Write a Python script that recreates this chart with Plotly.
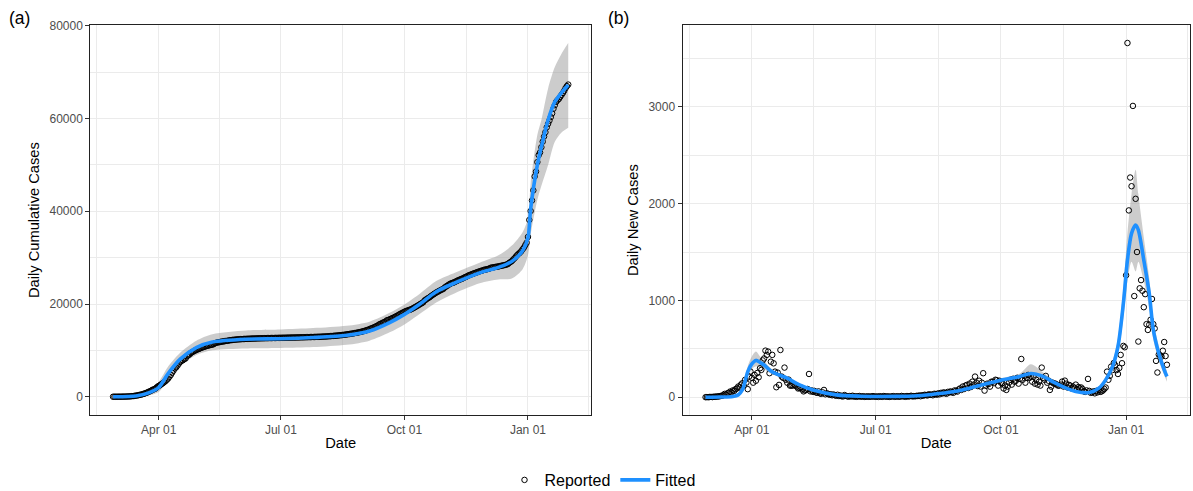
import numpy as np
import pandas as pd
import plotly.graph_objects as go

# ---------------- data ----------------
start_date = "2020-02-27"

new_feb = [0, 1, 0]
new_mar = [2, 3, 1, 5, 4, 8, 6, 10, 12, 15, 20, 34, 25, 40, 45, 58, 50, 70, 65, 83,
           90, 110, 100, 130, 144, 120, 179, 150, 83, 213, 265]
new_apr = [200, 150, 230, 170, 250, 206, 299, 282, 380, 400, 481, 437, 471, 248, 367,
           437, 350, 264, 103, 254, 127, 488, 213, 200, 306, 180, 150, 182, 120, 120]
new_may = [120, 130, 120, 110, 90, 95, 100, 80, 60, 70, 75, 85, 240, 60, 70, 55, 65,
           50, 45, 60, 40, 35, 50, 75, 30, 40, 35, 25, 30, 20, 28]
new_jun = [20, 15, 25, 12, 18, 10, 8, 22, 15, 10, 5, 12, 8, 15, 6, 10, 4, 8, 12, 5,
           7, 10, 3, 6, 9, 4, 8, 5, 11, 6]
new_jul = [5, 8, 3, 10, 6, 4, 12, 7, 5, 9, 3, 6, 8, 11, 4, 7, 10, 5, 6, 13, 8, 9, 4,
           12, 7, 10, 15, 8, 11, 9, 14]
new_aug = [12, 18, 10, 20, 15, 25, 22, 18, 30, 24, 28, 20, 35, 32, 26, 40, 30, 45, 38,
           50, 42, 35, 55, 48, 60, 52, 45, 70, 65, 58, 80]
new_sep = [90, 75, 110, 85, 120, 127, 95, 140, 105, 160, 130, 213, 150, 115, 170, 110,
           150, 248, 68, 120, 140, 135, 109, 160, 160, 145, 180, 175, 120, 170]
new_oct = [150, 145, 90, 120, 75, 110, 150, 180, 130, 190, 160, 170, 200, 140, 190, 395,
           180, 220, 150, 200, 230, 200, 215, 160, 210, 140, 180, 130, 160, 120, 306]
new_nov = [200, 180, 220, 150, 170, 75, 109, 150, 140, 140, 130, 120, 120, 130, 161, 110,
           171, 140, 100, 127, 120, 90, 110, 95, 130, 80, 105, 90, 100, 85]
new_dec = [60, 55, 70, 189, 65, 45, 50, 60, 40, 65, 50, 75, 55, 60, 70, 85, 100, 264,
           180, 220, 316, 280, 354, 330, 280, 240, 302, 437, 351, 530, 516]
new_jan = [1260, 3660, 1930, 2270, 2180, 3010, 1045, 2050, 1500, 575, 1125, 1210, 1100,
           930, 1065, 755, 695, 750, 800, 1015, 755, 710, 375, 255, 440, 430, 420, 480,
           570, 425, 335]

# fitted daily new cases (knots) with confidence band
fit_new_dates = ["2020-02-27", "2020-03-10", "2020-03-18", "2020-03-22", "2020-03-25",
                 "2020-03-27", "2020-03-29", "2020-04-01", "2020-04-04", "2020-04-07",
                 "2020-04-10", "2020-04-15", "2020-04-20", "2020-04-27", "2020-05-06",
                 "2020-05-16", "2020-06-02", "2020-06-20", "2020-07-15", "2020-08-01",
                 "2020-08-15", "2020-09-01", "2020-09-15", "2020-10-01", "2020-10-15",
                 "2020-10-23", "2020-11-01", "2020-11-08", "2020-11-18", "2020-11-25",
                 "2020-12-05", "2020-12-12", "2020-12-17", "2020-12-22", "2020-12-26",
                 "2020-12-30", "2021-01-02", "2021-01-05", "2021-01-08", "2021-01-10",
                 "2021-01-14", "2021-01-18", "2021-01-21", "2021-01-25", "2021-01-29",
                 "2021-01-31"]
fit_new = [0, 2, 8, 24, 75, 161, 264, 344, 380, 360, 333, 270, 235, 196, 127, 75, 24, 10,
           8, 15, 35, 70, 120, 175, 215, 245, 215, 161, 93, 58, 48, 93, 179, 316, 522, 970,
           1417, 1693, 1779, 1727, 1417, 1073, 695, 454, 282, 213]
fit_new_lo = [0, 0, 3, 12, 50, 120, 210, 290, 320, 310, 290, 245, 215, 180, 115, 67, 20,
              7, 5, 11, 29, 60, 105, 155, 190, 210, 185, 140, 80, 48, 38, 75, 150, 270,
              440, 820, 1200, 1400, 1300, 1400, 1200, 920, 600, 380, 230, 160]
fit_new_hi = [0, 5, 15, 40, 100, 200, 320, 420, 471, 420, 375, 300, 255, 212, 140, 83,
              29, 13, 11, 19, 41, 80, 135, 195, 245, 340, 255, 185, 107, 68, 58, 110, 210,
              370, 610, 1130, 1700, 2100, 2350, 2100, 1650, 1230, 800, 530, 340, 270]

# fitted cumulative cases (knots) with confidence band
fit_cum_dates = ["2020-02-27", "2020-03-15", "2020-03-25", "2020-04-01", "2020-04-08",
                 "2020-04-17", "2020-04-29", "2020-05-11", "2020-06-05", "2020-07-01",
                 "2020-07-25", "2020-08-19", "2020-09-05", "2020-09-20", "2020-10-01",
                 "2020-10-12", "2020-10-25", "2020-11-08", "2020-11-26", "2020-12-10",
                 "2020-12-20", "2020-12-28", "2021-01-01", "2021-01-03", "2021-01-08",
                 "2021-01-11", "2021-01-16", "2021-01-21", "2021-01-26", "2021-01-31"]
fit_cum = [0, 150, 900, 2000, 5000, 8100, 10600, 11800, 12400, 12500, 12760, 13250,
           14180, 16000, 17770, 19900, 22700, 24600, 26720, 27900, 29200, 31500, 34300,
           40500, 50000, 53900, 59700, 63600, 65600, 67250]
fit_cum_lo = [0, -100, 300, 1000, 3600, 6600, 9000, 10000, 10400, 10500, 10700, 11200,
              12100, 13900, 15600, 17800, 20400, 22400, 24500, 25300, 25500, 27500, 30500,
              35000, 42500, 45500, 50000, 55000, 57000, 58000]
fit_cum_hi = [0, 600, 1600, 3200, 6500, 9500, 12100, 13500, 14300, 14500, 14800, 15300,
              16200, 18100, 19900, 22100, 25000, 26800, 28900, 30500, 32600, 35500, 38500,
              46000, 56500, 59700, 66500, 71100, 74000, 76300]

x_tick_vals = ["2020-04-01", "2020-07-01", "2020-10-01", "2021-01-01"]
x_tick_text = ["Apr 01", "Jul 01", "Oct 01", "Jan 01"]
x_minor_vals = ["2020-02-15", "2020-05-16 12:00", "2020-08-16", "2020-11-16", "2021-02-15"]
y1_tick_vals = [0, 20000, 40000, 60000, 80000]
y1_minor_vals = [10000, 30000, 50000, 70000]
y2_tick_vals = [0, 1000, 2000, 3000]
y2_minor_vals = [500, 1500, 2500, 3500]

# ---------------- derived series ----------------
daily_new = (new_feb + new_mar + new_apr + new_may + new_jun + new_jul + new_aug +
             new_sep + new_oct + new_nov + new_dec + new_jan)
dates = pd.date_range(start_date, periods=len(daily_new), freq="D")
daily_cum = np.cumsum(daily_new)

span = dates[-1] - dates[0]
x_range = [dates[0] - span * 0.05, dates[-1] + span * 0.05]


def y_range(lo, hi):
    r = hi - lo
    return [lo - 0.05 * r, hi + 0.05 * r]


y1_range = y_range(min(0, min(fit_cum_lo)), max(max(fit_cum_hi), daily_cum.max()))
y2_range = y_range(0, max(max(fit_new_hi), max(daily_new)))

# ---------------- figure ----------------
FONT = "Liberation Sans, Arial, Helvetica, sans-serif"
BAND = "rgba(153,153,153,0.5)"
BLUE = "#1E90FF"

fig = go.Figure()


def add_panel(xa, ya, pts_y, f_dates, f_val, f_lo, f_hi, legend):
    fig.add_trace(go.Scatter(x=pd.to_datetime(f_dates), y=f_lo, mode="lines",
                             line=dict(width=0, shape="spline", smoothing=0.8),
                             xaxis=xa, yaxis=ya, showlegend=False, hoverinfo="skip"))
    fig.add_trace(go.Scatter(x=pd.to_datetime(f_dates), y=f_hi, mode="lines",
                             line=dict(width=0, shape="spline", smoothing=0.8),
                             fill="tonexty", fillcolor=BAND,
                             xaxis=xa, yaxis=ya, showlegend=False, hoverinfo="skip"))
    fig.add_trace(go.Scatter(x=dates, y=pts_y, mode="markers", name="Reported",
                             marker=dict(symbol="circle-open", size=5.5, color="black",
                                         line=dict(width=1, color="black")),
                             xaxis=xa, yaxis=ya, showlegend=legend, legendgroup="rep"))
    fig.add_trace(go.Scatter(x=pd.to_datetime(f_dates), y=f_val, mode="lines", name="Fitted",
                             line=dict(color=BLUE, width=3.6, shape="spline", smoothing=0.8),
                             xaxis=xa, yaxis=ya, showlegend=legend, legendgroup="fit"))


add_panel("x", "y", daily_cum, fit_cum_dates, fit_cum, fit_cum_lo, fit_cum_hi, False)
add_panel("x2", "y2", daily_new, fit_new_dates, fit_new, fit_new_lo, fit_new_hi, True)

W, H = 1193, 491
top_px, bot_px = 25.3, 414.9
ydom = [1 - bot_px / H, 1 - top_px / H]

common_axis = dict(showgrid=True, gridcolor="#EBEBEB", gridwidth=1.1, zeroline=False,
                   showline=True, mirror=True, linecolor="#222222", linewidth=1,
                   ticks="outside", ticklen=4, tickcolor="#333333", tickwidth=1,
                   tickfont=dict(family=FONT, size=12, color="#4D4D4D"),
                   tickmode="array", automargin=False)

xaxis_common = dict(common_axis, type="date", range=x_range, tickvals=x_tick_vals,
                    ticktext=x_tick_text,
                    minor=dict(tickmode="array", tickvals=x_minor_vals, showgrid=True,
                               gridcolor="#EBEBEB", gridwidth=0.55, ticks=""),
                    title=dict(text="Date", font=dict(family=FONT, size=14.7, color="black"),
                               standoff=1))

fig.update_layout(
    width=W, height=H,
    margin=dict(l=0, r=0, t=0, b=0, pad=0, autoexpand=False),
    paper_bgcolor="white", plot_bgcolor="white",
    font=dict(family=FONT, color="black"),
    xaxis=dict(xaxis_common, domain=[90.3 / W, 591.0 / W], anchor="y"),
    xaxis2=dict(xaxis_common, domain=[682.5 / W, 1190.0 / W], anchor="y2"),
    yaxis=dict(common_axis, domain=ydom, range=y1_range, anchor="x",
               tickvals=y1_tick_vals, ticktext=[str(v) for v in y1_tick_vals],
               minor=dict(tickmode="array", tickvals=y1_minor_vals, showgrid=True,
                          gridcolor="#EBEBEB", gridwidth=0.55, ticks=""),
               title=dict(text="Daily Cumulative Cases",
                          font=dict(family=FONT, size=14.7, color="black"), standoff=6)),
    yaxis2=dict(common_axis, domain=ydom, range=y2_range, anchor="x2",
                tickvals=y2_tick_vals, ticktext=[str(v) for v in y2_tick_vals],
                minor=dict(tickmode="array", tickvals=y2_minor_vals, showgrid=True,
                           gridcolor="#EBEBEB", gridwidth=0.55, ticks=""),
                title=dict(text="Daily New Cases",
                           font=dict(family=FONT, size=14.7, color="black"), standoff=6)),
    legend=dict(orientation="h", x=0.5 + 6 / W, xanchor="center", y=1 - 480 / H,
                yanchor="middle", font=dict(family=FONT, size=16, color="black"),
                bgcolor="rgba(0,0,0,0)", traceorder="normal", itemwidth=30),
    showlegend=True,
    annotations=[
        dict(text="(a)", x=7 / W, y=1 - 18 / H, xref="paper", yref="paper",
             xanchor="left", yanchor="middle", showarrow=False,
             font=dict(family=FONT, size=17.5, color="black")),
        dict(text="(b)", x=606 / W, y=1 - 18 / H, xref="paper", yref="paper",
             xanchor="left", yanchor="middle", showarrow=False,
             font=dict(family=FONT, size=17.5, color="black")),
    ],
)

fig.write_html("out.html", config={"displayModeBar": False},
               post_script="document.body.style.margin='0';document.body.style.overflow='hidden';")
